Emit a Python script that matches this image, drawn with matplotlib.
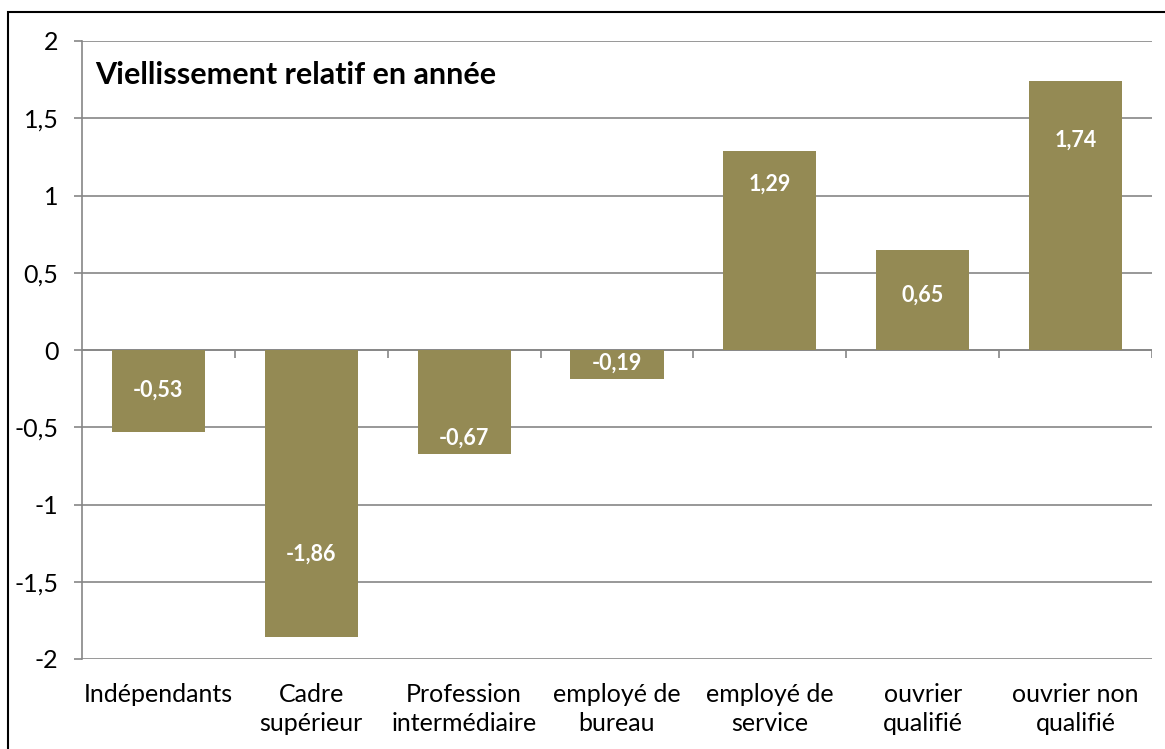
import matplotlib
matplotlib.use('Agg')
import matplotlib.pyplot as plt
from matplotlib.patches import Rectangle

# data
categories = ["Indépendants", "Cadre\nsupérieur", "Profession\nintermédiaire",
              "employé de\nbureau", "employé de\nservice", "ouvrier\nqualifié",
              "ouvrier non\nqualifié"]
values = [-0.53, -1.86, -0.67, -0.19, 1.29, 0.65, 1.74]
value_labels = ["-0,53", "-1,86", "-0,67", "-0,19", "1,29", "0,65", "1,74"]
y_ticks = [-2, -1.5, -1, -0.5, 0, 0.5, 1, 1.5, 2]
y_tick_labels = ["-2", "-1,5", "-1", "-0,5", "0", "0,5", "1", "1,5", "2"]

# where the label sits inside each bar (share of bar height from the axis)
label_frac = [0.49, 0.71, 0.85, 0.44, 0.83, 0.55, 0.78]

plt.rcParams['font.family'] = ['Lato', 'DejaVu Sans']
bar_color = '#948A54'
grid_color = '#868686'

fig = plt.figure(figsize=(11.65, 7.49), dpi=100)
ax = fig.add_axes([82/1165, 1-659/749, (1152-82)/1165, (659-41)/749])

# outer frame
fig.patches.append(Rectangle((8/1165, -0.01), 1.0, 1-12/749+0.01, transform=fig.transFigure,
                             fill=False, edgecolor='black', linewidth=1.5))

x = range(len(values))
ax.bar(x, values, width=0.61, color=bar_color, zorder=3)

for i, v in enumerate(values):
    ax.text(i, v*label_frac[i], value_labels[i], ha='center', va='center',
            color='white', fontsize=15.5, fontweight='bold', zorder=4)

ax.set_xlim(-0.5, len(values)-0.5)
ax.set_ylim(-2, 2)
ax.set_yticks(y_ticks)
ax.set_yticklabels(y_tick_labels, fontsize=18)
ax.set_xticks(list(x))
ax.set_xticklabels(categories, fontsize=18, linespacing=1.35)
ax.tick_params(axis='x', length=0, pad=17)
ax.tick_params(axis='y', length=6, color=grid_color, width=1.2, pad=11)

ax.yaxis.grid(True, color=grid_color, linewidth=1.2, zorder=1)
for s in ['top', 'right', 'bottom']:
    ax.spines[s].set_visible(False)
ax.spines['left'].set_color(grid_color)
ax.spines['left'].set_linewidth(1.2)

# category boundary ticks on the zero line
tick_len = 8/(618/4)
ax.vlines([b + 0.5 for b in x], 0, -tick_len, color=grid_color, linewidth=1.2, zorder=2)
ax.axhline(0, color=grid_color, linewidth=1.2, zorder=2)

ax.text(0.012, 0.945, "Viellissement relatif en année", transform=ax.transAxes,
        fontsize=22, fontweight='bold', ha='left', va='center')

fig.savefig('out.png', dpi=100)
